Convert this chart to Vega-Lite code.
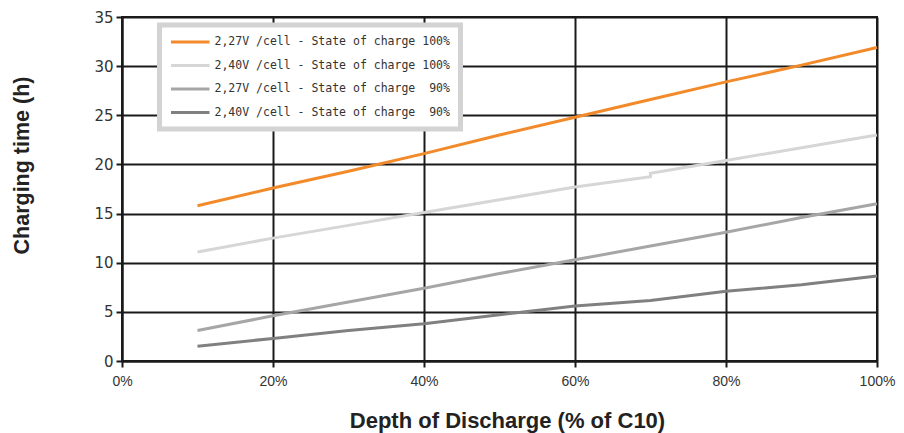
{
  "$schema": "https://vega.github.io/schema/vega-lite/v6.json",
  "width": 755,
  "height": 344,
  "autosize": {"type": "none"},
  "padding": {"left": 122, "top": 17, "right": 27, "bottom": 72},
  "background": "white",
  "config": {
    "view": {"stroke": "#1a1a1a", "strokeWidth": 2},
    "axis": {
      "gridColor": "#1a1a1a", "gridWidth": 2, "gridOpacity": 1,
      "domainColor": "#1a1a1a", "domainWidth": 2,
      "tickColor": "#1a1a1a", "tickWidth": 2, "tickSize": 6,
      "labelColor": "#333333", "titleColor": "#222222",
      "titleFont": "Liberation Sans", "titleFontWeight": "bold"
    }
  },
  "data": {"values": [
    {"d": 10, "t": 15.8, "s": "2,27V /cell - State of charge 100%", "o": 1},
    {"d": 20, "t": 17.6, "s": "2,27V /cell - State of charge 100%", "o": 2},
    {"d": 30, "t": 19.3, "s": "2,27V /cell - State of charge 100%", "o": 3},
    {"d": 40, "t": 21.1, "s": "2,27V /cell - State of charge 100%", "o": 4},
    {"d": 50, "t": 23.0, "s": "2,27V /cell - State of charge 100%", "o": 5},
    {"d": 60, "t": 24.8, "s": "2,27V /cell - State of charge 100%", "o": 6},
    {"d": 70, "t": 26.6, "s": "2,27V /cell - State of charge 100%", "o": 7},
    {"d": 80, "t": 28.4, "s": "2,27V /cell - State of charge 100%", "o": 8},
    {"d": 90, "t": 30.1, "s": "2,27V /cell - State of charge 100%", "o": 9},
    {"d": 100, "t": 31.9, "s": "2,27V /cell - State of charge 100%", "o": 10},
    {"d": 10, "t": 11.1, "s": "2,40V /cell - State of charge 100%", "o": 1},
    {"d": 20, "t": 12.5, "s": "2,40V /cell - State of charge 100%", "o": 2},
    {"d": 30, "t": 13.8, "s": "2,40V /cell - State of charge 100%", "o": 3},
    {"d": 40, "t": 15.1, "s": "2,40V /cell - State of charge 100%", "o": 4},
    {"d": 50, "t": 16.4, "s": "2,40V /cell - State of charge 100%", "o": 5},
    {"d": 60, "t": 17.7, "s": "2,40V /cell - State of charge 100%", "o": 6},
    {"d": 70, "t": 18.75, "s": "2,40V /cell - State of charge 100%", "o": 7},
    {"d": 70, "t": 19.1, "s": "2,40V /cell - State of charge 100%", "o": 8},
    {"d": 80, "t": 20.4, "s": "2,40V /cell - State of charge 100%", "o": 9},
    {"d": 90, "t": 21.7, "s": "2,40V /cell - State of charge 100%", "o": 10},
    {"d": 100, "t": 23.0, "s": "2,40V /cell - State of charge 100%", "o": 11},
    {"d": 10, "t": 3.1, "s": "2,27V /cell - State of charge\u00a0 90%", "o": 1},
    {"d": 20, "t": 4.6, "s": "2,27V /cell - State of charge\u00a0 90%", "o": 2},
    {"d": 30, "t": 6.0, "s": "2,27V /cell - State of charge\u00a0 90%", "o": 3},
    {"d": 40, "t": 7.4, "s": "2,27V /cell - State of charge\u00a0 90%", "o": 4},
    {"d": 50, "t": 8.9, "s": "2,27V /cell - State of charge\u00a0 90%", "o": 5},
    {"d": 60, "t": 10.3, "s": "2,27V /cell - State of charge\u00a0 90%", "o": 6},
    {"d": 70, "t": 11.7, "s": "2,27V /cell - State of charge\u00a0 90%", "o": 7},
    {"d": 80, "t": 13.1, "s": "2,27V /cell - State of charge\u00a0 90%", "o": 8},
    {"d": 90, "t": 14.6, "s": "2,27V /cell - State of charge\u00a0 90%", "o": 9},
    {"d": 100, "t": 16.0, "s": "2,27V /cell - State of charge\u00a0 90%", "o": 10},
    {"d": 10, "t": 1.5, "s": "2,40V /cell - State of charge\u00a0 90%", "o": 1},
    {"d": 20, "t": 2.3, "s": "2,40V /cell - State of charge\u00a0 90%", "o": 2},
    {"d": 30, "t": 3.1, "s": "2,40V /cell - State of charge\u00a0 90%", "o": 3},
    {"d": 40, "t": 3.8, "s": "2,40V /cell - State of charge\u00a0 90%", "o": 4},
    {"d": 50, "t": 4.7, "s": "2,40V /cell - State of charge\u00a0 90%", "o": 5},
    {"d": 60, "t": 5.6, "s": "2,40V /cell - State of charge\u00a0 90%", "o": 6},
    {"d": 70, "t": 6.15, "s": "2,40V /cell - State of charge\u00a0 90%", "o": 7},
    {"d": 80, "t": 7.1, "s": "2,40V /cell - State of charge\u00a0 90%", "o": 8},
    {"d": 90, "t": 7.75, "s": "2,40V /cell - State of charge\u00a0 90%", "o": 9},
    {"d": 100, "t": 8.65, "s": "2,40V /cell - State of charge\u00a0 90%", "o": 10}
  ]},
  "mark": {"type": "line", "strokeWidth": 3},
  "encoding": {
    "x": {
      "field": "d", "type": "quantitative",
      "scale": {"domain": [0, 100], "nice": false},
      "axis": {
        "title": "Depth of Discharge (% of C10)", "titleFontSize": 22,
        "titleX": 385, "titleY": 66, "titleBaseline": "alphabetic", "titleAlign": "center",
        "values": [0, 20, 40, 60, 80, 100], "labelExpr": "datum.value + '%'",
        "labelFont": "Liberation Sans", "labelFontSize": 14, "labelPadding": 7,
        "labelFlush": false
      }
    },
    "y": {
      "field": "t", "type": "quantitative",
      "scale": {"domain": [0, 35], "nice": false},
      "axis": {
        "title": "Charging time (h)", "titleFontSize": 21.5,
        "titleX": -100, "titleY": 148, "titleBaseline": "middle", "titleAlign": "center", "titleAngle": -90,
        "values": [0, 5, 10, 15, 20, 25, 30, 35],
        "labelFont": "DejaVu Sans", "labelFontSize": 15, "labelPadding": 3
      }
    },
    "order": {"field": "o", "type": "quantitative"},
    "color": {
      "field": "s", "type": "nominal",
      "scale": {
        "domain": ["2,27V /cell - State of charge 100%", "2,40V /cell - State of charge 100%", "2,27V /cell - State of charge\u00a0 90%", "2,40V /cell - State of charge\u00a0 90%"],
        "range": ["#f28a2a", "#d6d6d6", "#a6a6a6", "#808080"]
      },
      "legend": {
        "title": null, "orient": "none", "legendX": 37.5, "legendY": 8,
        "symbolType": "M-1,0H6", "symbolSize": 121, "symbolStrokeWidth": 3,
        "rowPadding": 10.5, "padding": 10, "labelOffset": 31, "labelLimit": 400,
        "labelFont": "DejaVu Sans Mono", "labelFontSize": 11.5, "labelColor": "#333333",
        "strokeColor": "#d3d3d3", "fillColor": "white",
        "encode": {"legend": {"update": {"strokeWidth": {"value": 5}}}}
      }
    }
  }
}
